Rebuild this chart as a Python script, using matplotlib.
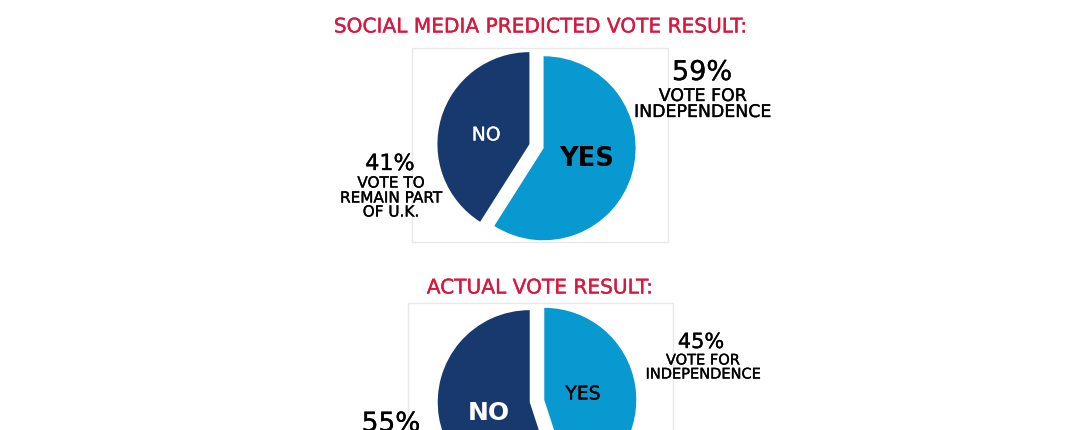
import matplotlib
matplotlib.use("Agg")
import numpy as np
import matplotlib.pyplot as plt
import matplotlib.patheffects as pe
from matplotlib.patches import Rectangle

plt.rcParams['font.family'] = ['DejaVu Sans']

# ---- data ----
categories = ['YES', 'NO']
predicted = [59, 41]
actual = [45, 55]
title_pred = 'SOCIAL MEDIA PREDICTED VOTE RESULT:'
title_act = 'ACTUAL VOTE RESULT:'
yes_caption = ['VOTE FOR', 'INDEPENDENCE']
no_caption = ['VOTE TO', 'REMAIN PART', 'OF U.K.']

DARK = '#17396d'
LIGHT = '#0899d1'
RED = '#d8193f'
W, H = 1080, 430

fig = plt.figure(figsize=(W / 100, H / 100), dpi=100)
fig.patch.set_facecolor('white')


def fx(x):
    return x / W


def fy(y):
    return 1 - y / H


def heavy(color, lw=0.25):
    return [pe.withStroke(linewidth=lw, foreground=color)]


def label(x, y, s, size, color='black'):
    fig.text(fx(x), fy(y), s, fontsize=size, color=color, ha='center', va='center',
             path_effects=heavy(color))


def box(x0, y0, x1, y1):
    fig.patches.append(Rectangle((fx(x0), fy(y1)), fx(x1) - fx(x0), fy(y0) - fy(y1),
                                 transform=fig.transFigure, facecolor='none',
                                 edgecolor='#e8e8e8', linewidth=1.0, zorder=0))


def pie_axes(cx, cy, r_px=92, half=1.3):
    s = r_px * half
    ax = fig.add_axes([fx(cx - s), (H - cy - s) / H, 2 * s / W, 2 * s / H])
    return ax, half


def draw_pie(ax, half, values, styles, offsets):
    wedges, texts = ax.pie(values, labels=categories, colors=[LIGHT, DARK],
                           startangle=90, counterclock=False,
                           explode=[0.08, 0.08], labeldistance=0.5,
                           wedgeprops=dict(linewidth=0))
    ax.set_xlim(-half, half)
    ax.set_ylim(-half, half)
    ax.axis('off')
    for w, t, st, off in zip(wedges, texts, styles, offsets):
        cx, cy = w.center
        t.set_position((cx + off[0], cy + off[1]))
        t.set_ha('center')
        t.set_va('center')
        t.set_fontsize(st[0])
        t.set_fontweight(st[1])
        t.set_color(st[2])
        if st[1] == 'normal':
            t.set_path_effects(heavy(st[2]))
    return wedges


# boxes
box(412, 48, 668, 242)
box(408, 303, 673, 440)

# titles
label(541, 27, title_pred, 14.5, RED)
label(540, 288, title_act, 14.5, RED)

# pies
ax1, h1 = pie_axes(536.5, 146.2)
draw_pie(ax1, h1, predicted,
         [(18.5, 'bold', 'black'), (13.5, 'normal', 'white')],
         [(0.47, -0.12), (-0.47, 0.10)])
ax2, h2 = pie_axes(537.0, 401)
draw_pie(ax2, h2, actual,
         [(13.5, 'normal', 'black'), (18, 'bold', 'white')],
         [(0.42, 0.065), (-0.45, -0.12)])

# captions pie 1
label(702, 73, f'{predicted[0]}%', 19.5)
for line, y in zip(yes_caption, [96, 112]):
    label(703, y, line, 12.5)
label(390, 164, f'{predicted[1]}%', 16)
for line, y in zip(no_caption, [183, 198, 212]):
    label(391, y, line, 11)

# captions pie 2
label(701, 342, f'{actual[0]}%', 15)
for line, y in zip(yes_caption, [360, 374]):
    label(703, y, line, 10.5)
label(391, 424, f'{actual[1]}%', 19)

fig.savefig('out.png', dpi=100, facecolor='white')
